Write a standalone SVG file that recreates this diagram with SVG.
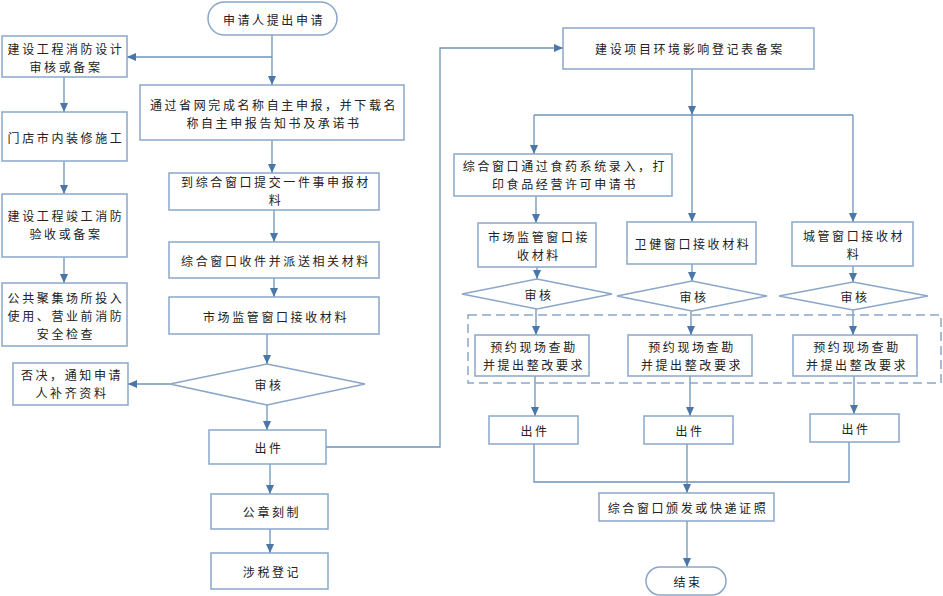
<svg xmlns="http://www.w3.org/2000/svg" width="943" height="596" viewBox="0 0 943 596">
<defs>
<marker id="ah" markerWidth="9" markerHeight="8" refX="9" refY="4" orient="auto" markerUnits="userSpaceOnUse">
<path d="M0,0 L9,4 L0,8 z" fill="#4a76a8"/>
</marker>
<style>
.b{fill:#fff;stroke:#8aa6c8;stroke-width:1.5}
.t{font-family:"Noto Sans CJK SC","Liberation Sans",sans-serif;font-size:12px;fill:#222;text-anchor:middle;dominant-baseline:central;letter-spacing:2.6px}
.c{fill:none;stroke:#6f93bb;stroke-width:1.3}
.a{marker-end:url(#ah)}
.dash{fill:none;stroke:#8aa6c8;stroke-width:1.5;stroke-dasharray:9 5}
</style>
</defs>
<rect width="943" height="596" fill="#fff"/>
<g id="connectors">
<path class="c a" d="M272,35 V85"/>
<path class="c a" d="M272,57 H127"/>
<path class="c a" d="M64,77 V112"/>
<path class="c a" d="M64,161 V194"/>
<path class="c a" d="M64,257 V283"/>
<path class="c a" d="M272,140 V173"/>
<path class="c a" d="M274,210 V242"/>
<path class="c a" d="M274,278 V297"/>
<path class="c a" d="M267,334 V364"/>
<path class="c a" d="M170,384 H128"/>
<path class="c a" d="M267,405 V430"/>
<path class="c a" d="M270,464 V494"/>
<path class="c a" d="M270,529 V553"/>
<path class="c a" d="M326,447 H440 V48 H563"/>
<path class="c a" d="M692,69 V115"/>
<path class="c" d="M534,115 H853"/>
<path class="c a" d="M534,115 V154"/>
<path class="c a" d="M692,115 V222"/>
<path class="c a" d="M853,115 V222"/>
<path class="c a" d="M536,196 V223"/>
<path class="c a" d="M537,267 V279"/>
<path class="c a" d="M536,309 V335"/>
<path class="c a" d="M692,264 V281"/>
<path class="c a" d="M691,311 V335"/>
<path class="c a" d="M853,266 V282"/>
<path class="c a" d="M853,310 V335"/>
<path class="c a" d="M535,376 V416"/>
<path class="c a" d="M690,376 V416"/>
<path class="c a" d="M854,376 V414"/>
<path class="c" d="M534,444 V482 H849 V442"/>
<path class="c a" d="M687,444 V493"/>
<path class="c a" d="M687,521 V567"/>
</g>
<rect id="group-dashed" class="dash" x="468" y="315" width="473" height="68"/>
<g id="start"><rect class="b" x="208" y="2" width="129" height="33" rx="16.5"/><text class="t" x="274" y="19">申请人提出申请</text></g>
<g id="n1"><rect class="b" x="2" y="36" width="125" height="41"/><text class="t" x="66" y="48">建设工程消防设计</text><text class="t" x="66" y="66">审核或备案</text></g>
<g id="n2"><rect class="b" x="2" y="112" width="125" height="49"/><text class="t" x="66" y="137">门店市内装修施工</text></g>
<g id="n3"><rect class="b" x="2" y="194" width="125" height="63"/><text class="t" x="66" y="215">建设工程竣工消防</text><text class="t" x="66" y="233">验收或备案</text></g>
<g id="n4"><rect class="b" x="2" y="283" width="125" height="63"/><text class="t" x="66" y="297">公共聚集场所投入</text><text class="t" x="66" y="315">使用、营业前消防</text><text class="t" x="66" y="333">安全检查</text></g>
<g id="n5"><rect class="b" x="140" y="85" width="264" height="55"/><text class="t" x="274" y="104">通过省网完成名称自主申报，并下载名</text><text class="t" x="274" y="122">称自主申报告知书及承诺书</text></g>
<g id="n6"><rect class="b" x="169" y="173" width="210" height="37"/><text class="t" x="276" y="181">到综合窗口提交一件事申报材</text><text class="t" x="276" y="199">料</text></g>
<g id="n7"><rect class="b" x="169" y="242" width="210" height="36"/><text class="t" x="276" y="260">综合窗口收件并派送相关材料</text></g>
<g id="n8"><rect class="b" x="169" y="297" width="210" height="37"/><text class="t" x="276" y="316">市场监管窗口接收材料</text></g>
<g id="d1"><polygon class="b" points="267,364 365,384 267,405 170,384"/><text class="t" x="269" y="384">审核</text></g>
<g id="n9"><rect class="b" x="13" y="363" width="115" height="42"/><text class="t" x="72" y="374">否决，通知申请</text><text class="t" x="72" y="392">人补齐资料</text></g>
<g id="n10"><rect class="b" x="209" y="430" width="117" height="34"/><text class="t" x="269" y="447">出件</text></g>
<g id="n11"><rect class="b" x="211" y="494" width="117" height="35"/><text class="t" x="272" y="511">公章刻制</text></g>
<g id="n12"><rect class="b" x="211" y="553" width="117" height="36"/><text class="t" x="272" y="571">涉税登记</text></g>
<g id="n13"><rect class="b" x="563" y="28" width="251" height="41"/><text class="t" x="690" y="48">建设项目环境影响登记表备案</text></g>
<g id="n14"><rect class="b" x="454" y="154" width="218" height="42"/><text class="t" x="565" y="165">综合窗口通过食药系统录入，打</text><text class="t" x="565" y="183">印食品经营许可申请书</text></g>
<g id="n15"><rect class="b" x="478" y="223" width="118" height="44"/><text class="t" x="539" y="236">市场监管窗口接</text><text class="t" x="539" y="254">收材料</text></g>
<g id="n16"><rect class="b" x="627" y="222" width="129" height="42"/><text class="t" x="693" y="243">卫健窗口接收材料</text></g>
<g id="n17"><rect class="b" x="792" y="222" width="121" height="44"/><text class="t" x="854" y="235">城管窗口接收材</text><text class="t" x="854" y="253">料</text></g>
<g id="d2"><polygon class="b" points="537,279 612,294 537,309 462,294"/><text class="t" x="539" y="294">审核</text></g>
<g id="d3"><polygon class="b" points="692,281 767,296 692,311 617,296"/><text class="t" x="694" y="296">审核</text></g>
<g id="d4"><polygon class="b" points="853,282 928,296 853,310 779,296"/><text class="t" x="855" y="296">审核</text></g>
<g id="n18"><rect class="b" x="475" y="335" width="114" height="41"/><text class="t" x="534" y="346">预约现场查勘</text><text class="t" x="534" y="364">并提出整改要求</text></g>
<g id="n19"><rect class="b" x="628" y="335" width="124" height="41"/><text class="t" x="692" y="346">预约现场查勘</text><text class="t" x="692" y="364">并提出整改要求</text></g>
<g id="n20"><rect class="b" x="793" y="335" width="124" height="41"/><text class="t" x="857" y="346">预约现场查勘</text><text class="t" x="857" y="364">并提出整改要求</text></g>
<g id="n21"><rect class="b" x="489" y="416" width="89" height="28"/><text class="t" x="535" y="430">出件</text></g>
<g id="n22"><rect class="b" x="644" y="416" width="89" height="28"/><text class="t" x="690" y="430">出件</text></g>
<g id="n23"><rect class="b" x="810" y="414" width="89" height="28"/><text class="t" x="856" y="428">出件</text></g>
<g id="n24"><rect class="b" x="599" y="493" width="175" height="28"/><text class="t" x="688" y="507">综合窗口颁发或快递证照</text></g>
<g id="end"><rect class="b" x="646" y="567" width="80" height="28" rx="14"/><text class="t" x="688" y="581">结束</text></g>
</svg>
